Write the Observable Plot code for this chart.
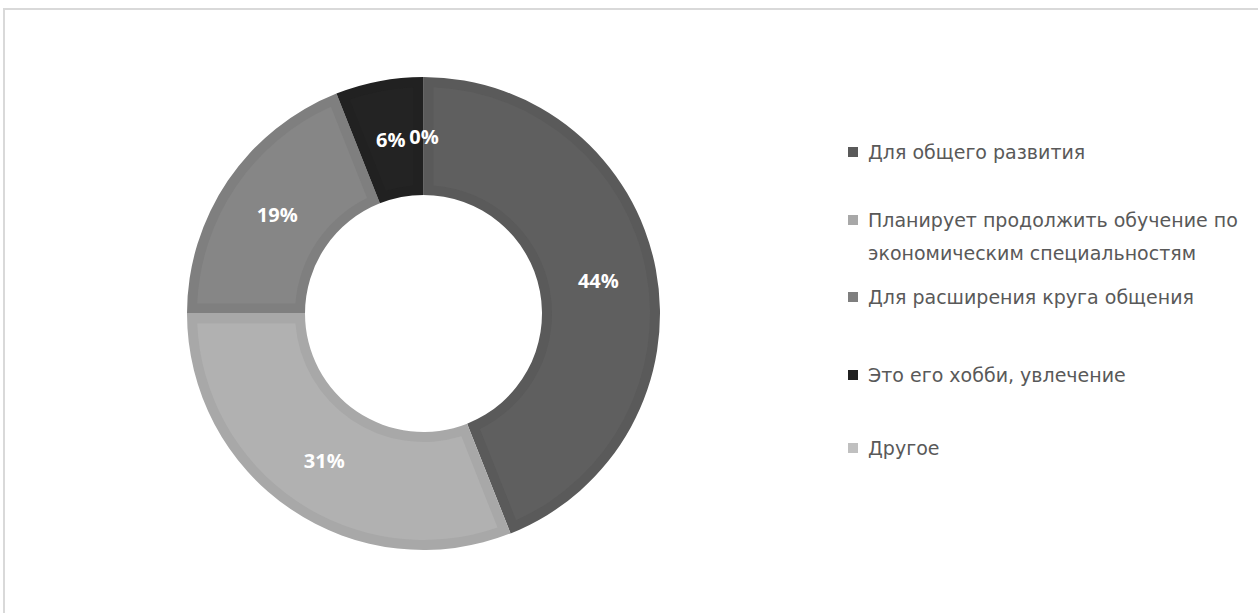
<!DOCTYPE html>
<html><head><meta charset="utf-8">
<script src="https://cdn.jsdelivr.net/npm/d3@7"></script>
<script src="https://cdn.jsdelivr.net/npm/@observablehq/plot@0.6"></script>
<style>
html,body{margin:0;padding:0;background:#fff;overflow:hidden;width:1258px;height:613px;}
#frame{position:absolute;left:3px;top:8px;width:1400px;height:800px;border:2px solid #d9d9d9;box-sizing:border-box;}
#chart{position:absolute;left:0;top:0;}
#legend{position:absolute;left:848px;top:0;font-family:"DejaVu Sans",sans-serif;font-size:19px;color:#595959;}
.item{position:absolute;left:0;display:flex;align-items:flex-start;width:410px;line-height:33px;}
.sw{width:10px;height:10px;margin-top:11.5px;margin-right:10px;flex:none;}
</style></head>
<body>
<div id="frame"></div>
<div id="chart"></div>
<div id="legend"></div>
<script>
const categories = ["Для общего развития", "Планирует продолжить обучение по экономическим специальностям", "Для расширения круга общения", "Это его хобби, увлечение", "Другое"];
const values = [44, 31, 19, 6, 0];
const valueLabels = ["44%", "31%", "19%", "6%", "0%"];
const sliceColors = ["#5f5f5f", "#b1b1b1", "#868686", "#232323", "#cbcbcb"];

const W = 1258, H = 613;
const cx = 423.5, cy = 313.5, rOut = 236.5, rIn = 118.5, inset = 10;

const data = categories.map((c, i) => ({category: c, value: values[i], label: valueLabels[i]}));
const color = Plot.scale({color: {type: "ordinal", domain: categories, range: sliceColors}});
const edge = c => d3.color(color.apply(c)).darker(0.15).formatHex();

const pie = d3.pie().sort(null).value(d => d.value);
const arcs = pie(data);
const outerArc = d3.arc().innerRadius(rIn).outerRadius(rOut);
const innerArc = d3.arc().innerRadius(rIn + inset).outerRadius(rOut - inset).padRadius(rOut).padAngle(2 * inset / rOut);
const labelArc = d3.arc().innerRadius(rIn).outerRadius(rOut);

const labelData = arcs.map(a => {
  const [x, y] = labelArc.centroid(a);
  return {x: cx + x, y: cy + y, label: a.data.label};
});

function donutMark(index, scales, values, dimensions) {
  const g = d3.create("svg:g").attr("transform", `translate(${cx},${cy})`);
  for (const a of arcs) {
    if (a.value === 0) continue;
    g.append("path").attr("d", outerArc(a)).attr("fill", edge(a.data.category));
    g.append("path").attr("d", innerArc(a)).attr("fill", color.apply(a.data.category));
  }
  return g.node();
}

const chart = Plot.plot({
  width: W, height: H, margin: 0,
  x: {domain: [0, W], range: [0, W], axis: null},
  y: {domain: [0, H], range: [0, H], axis: null},
  style: {background: "transparent", overflow: "visible"},
  marks: [
    donutMark,
    Plot.text(labelData, {x: "x", y: "y", text: "label", fill: "white", fontWeight: "bold", fontSize: 20, fontFamily: "Open Sans", textAnchor: "middle", dy: 1})
  ]
});
document.getElementById("chart").appendChild(chart);

// legend
const legendTops = [136, 204, 281, 359, 432];
const legend = document.getElementById("legend");
categories.forEach((c, i) => {
  const it = document.createElement("div");
  it.className = "item";
  it.style.top = (legendTops[i] - 0.5) + "px";
  const sw = document.createElement("div");
  sw.className = "sw";
  sw.style.background = edge(c);
  const tx = document.createElement("div");
  tx.textContent = c;
  it.appendChild(sw); it.appendChild(tx);
  legend.appendChild(it);
});
</script>
</body></html>
